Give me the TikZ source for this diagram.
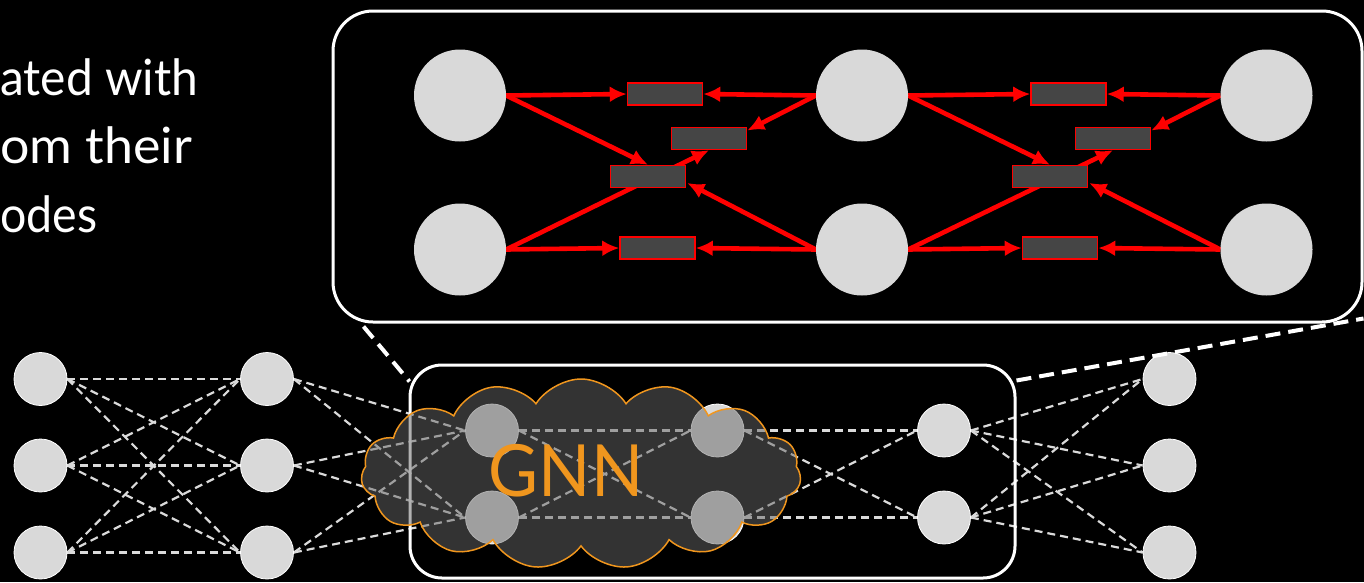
\documentclass[tikz,border=0pt]{standalone}
\usepackage{fontspec}
\setmainfont{Lato}
\usetikzlibrary{shapes.symbols,arrows.meta,calc}
\pgfdeclarelayer{bg}
\pgfsetlayers{bg,main}
\definecolor{cgray}{HTML}{D9D9D9}
\definecolor{rectgray}{HTML}{454545}
\definecolor{dgray}{HTML}{DADADA}
\definecolor{gnnorange}{HTML}{F0961E}
\definecolor{cloudfill}{HTML}{666666}
\begin{document}
\begin{tikzpicture}[x=1pt,y=-1pt,
  bigc/.style={circle,fill=cgray,minimum size=92pt,inner sep=0pt},
  smc/.style={circle,fill=cgray,draw=white,line width=0.8pt,minimum size=53pt,inner sep=0pt},
  msg/.style={rectangle,fill=rectgray,draw=red,line width=1.5pt,minimum width=75pt,minimum height=22pt,inner sep=0pt},
  redarr/.style={draw=red,line width=4.6pt,-{Latex[length=17pt,width=16pt]}},
  dline/.style={draw=dgray,line width=2.2pt,dash pattern=on 8pt off 5pt},
  zoomline/.style={draw=white,line width=4pt,dash pattern=on 15pt off 8pt},
  frame/.style={draw=white,line width=3pt,rectangle,inner sep=0pt},
  txt/.style={text=white,font=\fontsize{50}{50}\selectfont,inner sep=0pt,anchor=base west}
]
\useasboundingbox (0,0) rectangle (1364,582);
\begin{pgfonlayer}{bg}
\fill[black] (0,0) rectangle (1364,582);
\end{pgfonlayer}

% text on the left
\node[txt] (l1) at (0,95) {\resizebox{198pt}{\height}{ated with}};
\node[txt] (l2) at (0,163) {\resizebox{192pt}{\height}{om their}};
\node[txt] (l3) at (0,232) {\resizebox{97pt}{\height}{odes}};

% zoomed box
\node[frame,rounded corners=40pt,minimum width=1029pt,minimum height=311pt] (zoombox) at (847.5,166.5) {};

\node[bigc] (t1) at (460,95.5) {};
\node[bigc] (t2) at (862,95.5) {};
\node[bigc] (t3) at (1266.5,95.5) {};
\node[bigc] (b1) at (460,249.5) {};
\node[bigc] (b2) at (862,249.5) {};
\node[bigc] (b3) at (1266.5,249.5) {};

\node[msg] (rt1) at (665,94) {};
\node[msg] (ru1) at (709,138.5) {};
\node[msg] (rm1) at (648,176.5) {};
\node[msg] (rb1) at (657.5,248) {};
\node[msg] (rt2) at (1068.5,94) {};
\node[msg] (ru2) at (1113,138.5) {};
\node[msg] (rm2) at (1050,176.5) {};
\node[msg] (rb2) at (1060,248) {};

\begin{pgfonlayer}{bg}
\foreach \i/\j in {1/2,2/3}{
  \draw[redarr] (t\i.east) -- (rt\i.west);
  \draw[redarr] (t\j.west) -- (rt\i.east);
  \draw[redarr] (t\i.east) -- (rm\i.north);
  \draw[redarr] (b\j.west) -- ($(rm\i.east)+(1,6.5)$);
  \draw[redarr] (b\i.east) -- (ru\i.south);
  \draw[redarr] (t\j.west) -- ($(ru\i.east)+(0,-8)$);
  \draw[redarr] (b\i.east) -- (rb\i.west);
  \draw[redarr] (b\j.west) -- (rb\i.east);
}
\end{pgfonlayer}

% bottom network
\node[smc] (c11) at (40.5,379) {};
\node[smc] (c12) at (40.5,465.5) {};
\node[smc] (c13) at (40.5,552.5) {};
\node[smc] (c21) at (267,379) {};
\node[smc] (c22) at (267,465.5) {};
\node[smc] (c23) at (267,552.5) {};
\node[smc] (g11) at (492,430.5) {};
\node[smc] (g12) at (492,517.5) {};
\node[smc] (g21) at (717.5,430.5) {};
\node[smc] (g22) at (717.5,517.5) {};
\node[smc] (o1) at (944,430.5) {};
\node[smc] (o2) at (944,517.5) {};
\node[smc] (r1) at (1169.5,379) {};
\node[smc] (r2) at (1169.5,465.5) {};
\node[smc] (r3) at (1169.5,552.5) {};

\begin{pgfonlayer}{bg}
\foreach \a in {1,2,3}{
  \foreach \b in {1,2,3}{
    \draw[dline] (c1\a.east) -- (c2\b.west);
  }
  \foreach \b in {1,2}{
    \draw[dline] (c2\a.east) -- (g1\b.west);
    \draw[dline] (o\b.east) -- (r\a.west);
  }
}
\foreach \a in {1,2}{
  \foreach \b in {1,2}{
    \draw[dline] (g1\a.east) -- (g2\b.west);
    \draw[dline] (g2\a.east) -- (o\b.west);
  }
}
\end{pgfonlayer}

\node[frame,rounded corners=32pt,minimum width=605pt,minimum height=213pt] (gnnbox) at (712.5,471.5) {};

\node[cloud,cloud puffs=15,cloud puff arc=115,aspect=2.0,minimum width=440pt,minimum height=190pt,inner sep=0pt,
  fill=cloudfill,fill opacity=0.5,draw=gnnorange,line width=1.5pt] (cloud) at (581,474) {};
\node[text=gnnorange,font=\fontsize{72}{72}\selectfont,inner sep=0pt] (gnn) at (566,471) {\scalebox{0.95}[1]{GNN}};

% zoom connectors
\draw[zoomline] ($(zoombox.south west)+(32,3)$) -- ($(gnnbox.north west)+(1,18)$);
\draw[zoomline] ($(gnnbox.north east)+(0,17)$) -- ($(zoombox.south east)+(0,-5)$);
\end{tikzpicture}
\end{document}
